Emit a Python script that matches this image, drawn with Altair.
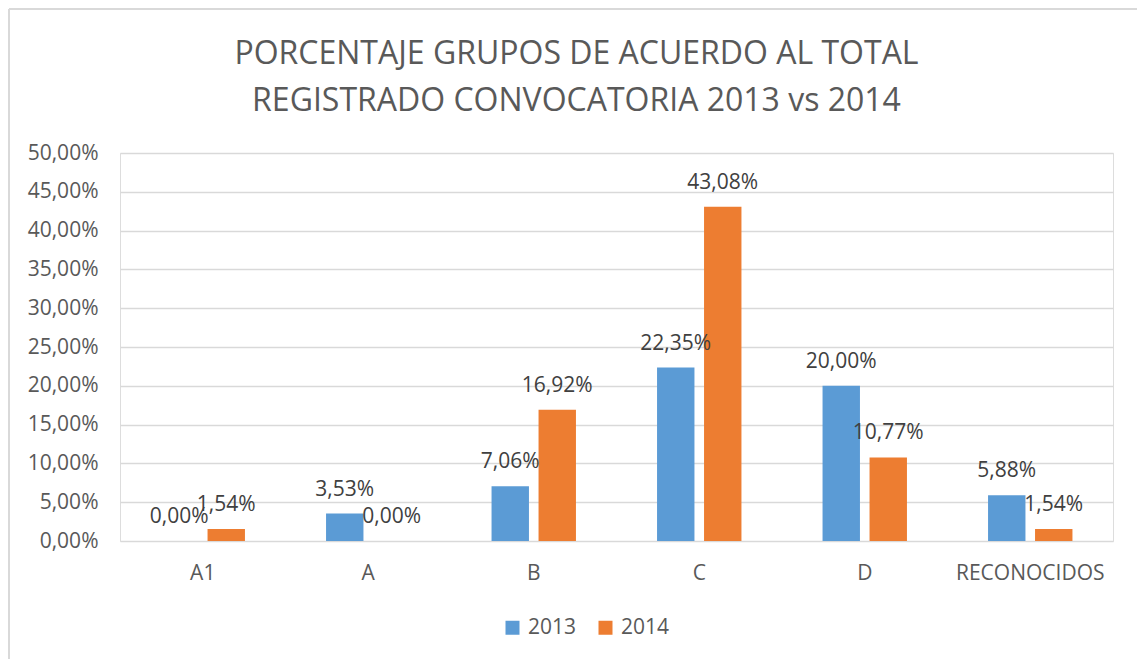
import altair as alt
import pandas as pd

categories = ["A1", "A", "B", "C", "D", "RECONOCIDOS"]
values_2013 = [0.0, 3.53, 7.06, 22.35, 20.00, 5.88]
values_2014 = [1.54, 0.0, 16.92, 43.08, 10.77, 1.54]
series = ["2013", "2014"]
colors = ["#5B9BD5", "#ED7D31"]
y_ticks = [0, 0.05, 0.10, 0.15, 0.20, 0.25, 0.30, 0.35, 0.40, 0.45, 0.50]

rows = []
for c, a, b in zip(categories, values_2013, values_2014):
    rows.append({"cat": c, "serie": series[0], "val": a / 100})
    rows.append({"cat": c, "serie": series[1], "val": b / 100})
df = pd.DataFrame(rows)

FONT = "Open Sans"
GRAY = "#595959"

x = alt.X("cat:N", sort=categories, title=None,
          scale=alt.Scale(paddingInner=0.49, paddingOuter=0.245),
          axis=alt.Axis(labelAngle=0, domain=False, ticks=False, labelPadding=21,
                        labelFontSize=21, labelColor=GRAY, labelFont=FONT))
xo = alt.XOffset("serie:N", sort=series, scale=alt.Scale(paddingInner=0.204, paddingOuter=0))
y = alt.Y("val:Q", title=None,
          scale=alt.Scale(domain=[0, 0.5], nice=False),
          axis=alt.Axis(values=y_ticks, domain=False, ticks=False, labelPadding=22,
                        labelFontSize=21, labelColor=GRAY, labelFont=FONT,
                        gridColor="#D9D9D9", gridWidth=1.3,
                        labelExpr="replace(format(datum.value*100, '.2f'), '.', ',') + '%'"))

bars = alt.Chart(df).mark_bar().encode(
    x=x, xOffset=xo, y=y,
    color=alt.Color("serie:N", sort=series, title=None,
                    scale=alt.Scale(domain=series, range=colors),
                    legend=alt.Legend(orient="none", legendX=382, legendY=464, direction="horizontal",
                                      symbolType="square", symbolSize=196, symbolStrokeWidth=0,
                                      labelFontSize=21, labelColor=GRAY, labelFont=FONT,
                                      labelOffset=5, columnPadding=18))
)

labels = alt.Chart(df).transform_calculate(
    lbl="replace(format(datum.val*100, '.2f'), '.', ',') + '%'"
).mark_text(baseline="alphabetic", dy=-18, fontSize=21, font=FONT, color="#404040").encode(
    x=x, xOffset=xo, y=y, text="lbl:N"
)

border_left = alt.Chart(df).mark_rule(color="#D9D9D9", strokeWidth=1.5).encode(
    x=alt.value(-111), y=alt.value(-144), y2=alt.value(506))
border_top = alt.Chart(df).mark_rule(color="#D9D9D9", strokeWidth=1.5).encode(
    x=alt.value(-111), x2=alt.value(1017), y=alt.value(-144))

chart = alt.layer(bars, labels, border_left, border_top).properties(
    width=993, height=388,
    autosize=alt.AutoSizeParams(type="none"),
    padding={"left": 120, "top": 153, "right": 24, "bottom": 118},
    title=alt.Title(["PORCENTAJE GRUPOS DE ACUERDO AL TOTAL", "REGISTRADO CONVOCATORIA 2013 vs 2014"],
                    fontSize=32, font=FONT, color=GRAY, fontWeight="normal",
                    anchor="middle", dx=-40, dy=140, offset=30, lineHeight=47),
).configure_view(stroke=None).configure(background="white")

chart.save("out.html", embed_options={"renderer": "svg", "actions": False})
